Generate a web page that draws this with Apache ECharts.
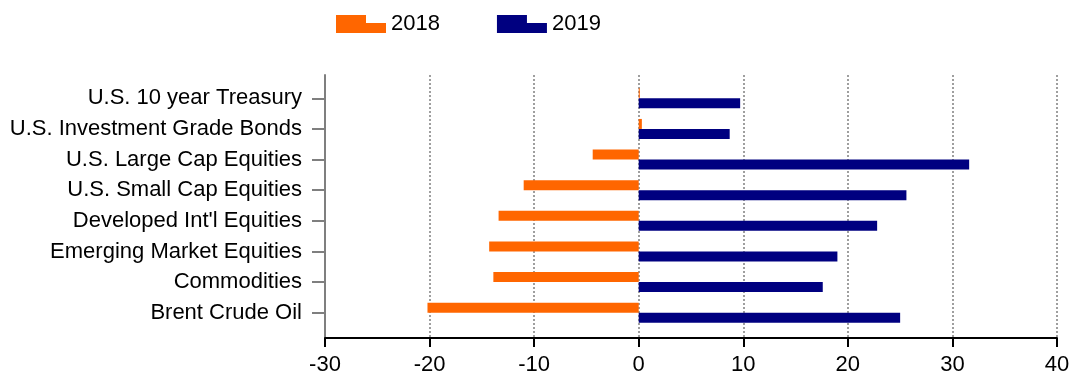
<!DOCTYPE html>
<html>
<head>
<meta charset="utf-8">
<script src="https://cdn.jsdelivr.net/npm/echarts@6/dist/echarts.min.js"></script>
<style>
  html, body { margin: 0; padding: 0; background: #fff; }
  #chart { width: 1077px; height: 378px; }
</style>
</head>
<body>
<div id="chart"></div>
<script>
// asset classes, top to bottom
const categories = [
  'U.S. 10 year Treasury',
  'U.S. Investment Grade Bonds',
  'U.S. Large Cap Equities',
  'U.S. Small Cap Equities',
  "Developed Int'l Equities",
  'Emerging Market Equities',
  'Commodities',
  'Brent Crude Oil'
];
const returns2018 = [0.1, 0.3, -4.4, -11.0, -13.4, -14.3, -13.9, -20.2];
const returns2019 = [9.7, 8.7, 31.6, 25.6, 22.8, 19.0, 17.6, 25.0];
const xTicks = [-30, -20, -10, 0, 10, 20, 30, 40];

const font = 'Liberation Sans, Arial, sans-serif';
const legendIcon = 'path://M0,0 L30,0 L30,8 L50,8 L50,18 L0,18 Z';

const chart = echarts.init(document.getElementById('chart'));

const option = {
  animation: false,
  textStyle: { fontFamily: font, color: '#000' },
  legend: {
    left: 336,
    top: 13,
    padding: 0,
    itemWidth: 50,
    itemHeight: 18,
    itemGap: 57,
    textStyle: { fontSize: 22, color: '#000', fontFamily: font, padding: [0, 0, 18, 0] },
    data: [
      { name: '2018', icon: legendIcon },
      { name: '2019', icon: legendIcon }
    ]
  },
  grid: [
    // bars + category labels
    { left: 325, right: 20, top: 83, bottom: 50 },
    // frame: tick values, dotted lines, axis lines
    { left: 325, right: 20, top: 75, bottom: 40 }
  ],
  xAxis: [
    {
      gridIndex: 0,
      type: 'value',
      min: xTicks[0],
      max: xTicks[xTicks.length - 1],
      interval: 10,
      show: false
    },
    {
      gridIndex: 1,
      type: 'value',
      min: xTicks[0],
      max: xTicks[xTicks.length - 1],
      interval: 10,
      axisLine: { show: true, onZero: false, lineStyle: { color: '#000', width: 2 } },
      axisTick: { show: true, length: 9, lineStyle: { color: '#000', width: 2 } },
      axisLabel: { fontSize: 22, color: '#000', margin: 16, fontFamily: font },
      splitLine: { show: true, lineStyle: { color: '#808080', width: 1.5, type: [2, 2] } }
    }
  ],
  yAxis: [
    {
      gridIndex: 0,
      type: 'category',
      data: categories,
      inverse: true,
      axisLine: { show: false, onZero: false },
      axisTick: { show: true, alignWithLabel: true, length: 13, lineStyle: { color: '#7f7f7f', width: 2 } },
      axisLabel: { fontSize: 22, color: '#000', margin: 23, fontFamily: font },
      splitLine: { show: false }
    },
    {
      gridIndex: 1,
      type: 'value',
      min: 0,
      max: 1,
      axisLine: { show: true, onZero: false, lineStyle: { color: '#7f7f7f', width: 2 } },
      axisTick: { show: false },
      axisLabel: { show: false },
      splitLine: { show: false }
    }
  ],
  series: [
    {
      name: '2018',
      type: 'bar',
      xAxisIndex: 0,
      yAxisIndex: 0,
      data: returns2018,
      barWidth: 10,
      barGap: '0%',
      itemStyle: { color: '#ff6600' }
    },
    {
      name: '2019',
      type: 'bar',
      xAxisIndex: 0,
      yAxisIndex: 0,
      data: returns2019,
      barWidth: 10,
      barGap: '0%',
      itemStyle: { color: '#000080' }
    }
  ]
};

chart.setOption(option);
</script>
</body>
</html>
